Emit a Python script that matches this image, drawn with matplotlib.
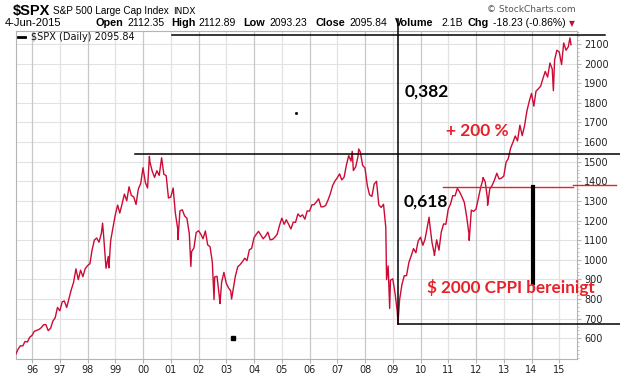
import pandas as pd
import matplotlib.pyplot as plt
import matplotlib.dates as mdates
from matplotlib.ticker import MultipleLocator

# S&P 500 month-end closes, Jun 1995 .. May 2015
monthly_close = [
    544, 562, 561, 584, 581, 605, 615,
    636, 640, 645, 654, 669, 670, 639, 651, 687, 705, 757, 740,
    786, 790, 757, 801, 848, 885, 954, 899, 947, 914, 955, 970,
    980, 1049, 1101, 1111, 1090, 1133, 1120, 957, 1017, 1098, 1163, 1229,
    1279, 1238, 1286, 1335, 1301, 1372, 1328, 1320, 1282, 1362, 1388, 1469,
    1394, 1366, 1498, 1452, 1420, 1454, 1430, 1517, 1436, 1429, 1315, 1320,
    1366, 1240, 1160, 1249, 1255, 1224, 1211, 1134, 1041, 1060, 1139, 1148,
    1130, 1107, 1147, 1076, 1067, 990, 912, 916, 815, 886, 936, 880,
    856, 841, 848, 917, 964, 975, 990, 1008, 996, 1051, 1058, 1112,
    1131, 1145, 1126, 1107, 1121, 1141, 1102, 1104, 1115, 1130, 1174, 1212,
    1181, 1204, 1181, 1157, 1192, 1191, 1234, 1220, 1229, 1207, 1249, 1248,
    1280, 1281, 1295, 1311, 1270, 1270, 1277, 1304, 1336, 1378, 1401, 1418,
    1438, 1407, 1421, 1482, 1531, 1503, 1455, 1474, 1527, 1549, 1481, 1468,
    1378, 1331, 1323, 1386, 1400, 1280, 1267, 1283, 1165, 969, 896, 903,
    826, 735, 798, 873, 919, 919, 987, 1021, 1057, 1036, 1096, 1115,
    1074, 1104, 1169, 1187, 1089, 1031, 1102, 1049, 1141, 1183, 1181, 1258,
    1286, 1327, 1326, 1364, 1345, 1321, 1292, 1219, 1131, 1253, 1247, 1258,
    1312, 1366, 1408, 1398, 1310, 1362, 1379, 1407, 1441, 1412, 1416, 1426,
    1498, 1515, 1569, 1598, 1631, 1606, 1686, 1633, 1682, 1757, 1806, 1848,
    1783, 1859, 1872, 1884, 1924, 1960, 1931, 2003, 1972, 2018, 2068, 2059,
    1995, 2105, 2068, 2086, 2107,
]

# intra-month highs and lows visible on the chart
extreme_dates = ['1995-06-01', '1998-07-17', '1998-10-08', '2000-03-24', '2000-09-01',
                 '2001-04-04', '2001-09-21', '2002-07-23', '2002-10-09', '2003-03-11',
                 '2007-07-16', '2007-10-09', '2008-10-10', '2008-11-20', '2009-03-09',
                 '2010-04-23', '2010-07-02', '2011-04-29', '2011-10-03', '2012-04-02',
                 '2012-06-01', '2014-10-15', '2015-05-21', '2015-06-04']
extreme_values = [520, 1187, 959, 1527, 1520,
                  1103, 966, 797, 777, 800,
                  1553, 1565, 899, 752, 677,
                  1217, 1022, 1364, 1099, 1419,
                  1278, 1862, 2131, 2096]

year_labels = ['96', '97', '98', '99', '00', '01', '02', '03', '04', '05',
               '06', '07', '08', '09', '10', '11', '12', '13', '14', '15']
price_ticks = list(range(600, 2101, 100))

RED = '#cc0a35'
TXT_RED = '#e8202a'


def build_series():
    """Merge month-end closes and extremes into one sorted series."""
    s1 = pd.Series(monthly_close,
                   index=pd.date_range('1995-06-30', periods=len(monthly_close), freq='ME'))
    s2 = pd.Series(extreme_values, index=pd.to_datetime(extreme_dates))
    return pd.concat([s1, s2]).sort_index()


def px(x, y):
    return x / 620, 1 - y / 376


def d(s):
    return mdates.date2num(pd.Timestamp(s))


def main():
    spx = build_series()

    fig = plt.figure(figsize=(6.2, 3.76), dpi=100)
    ax = fig.add_axes([16 / 620, 1 - 358.5 / 376, 561 / 620, 327.5 / 376])

    ax.set_xlim(d('1995-06-03'), d('2015-08-22'))
    ax.set_ylim(497, 2166)

    # grid: horizontal every 100, vertical per year (even years darker)
    for v in price_ticks:
        ax.axhline(v, color='#e2e2e2', lw=0.8, zorder=0)
    years = pd.date_range('1996-01-01', periods=len(year_labels), freq='YS')
    for yr in years:
        col = '#c8c8c8' if yr.year % 2 == 0 else '#e2e2e2'
        ax.axvline(mdates.date2num(yr), color=col, lw=0.9, zorder=0)

    ax.plot(spx.index, spx.values, color=RED, lw=1.0, zorder=3)

    # axes styling
    for sp in ax.spines.values():
        sp.set_color('#b4b4b4')
    ax.yaxis.tick_right()
    ax.set_yticks(price_ticks)
    ax.set_yticklabels([str(v) for v in price_ticks])
    ax.yaxis.set_minor_locator(MultipleLocator(20))
    ax.tick_params(axis='y', which='major', length=3, color='#b4b4b4',
                   labelsize=7, labelcolor='#222222', pad=2)
    ax.tick_params(axis='y', which='minor', length=1.5, color='#b4b4b4')
    ax.set_xticks(mdates.date2num(years))
    ax.set_xticklabels(year_labels)
    ax.tick_params(axis='x', length=3, color='#b4b4b4', labelsize=7,
                   labelcolor='#222222', pad=2)

    # hand-drawn overlay lines
    kw = dict(clip_on=False, zorder=5)
    ax.plot([d('2001-01-20'), d('2016-08-25')], [2146, 2146], color='black', lw=1.1, **kw)
    ax.plot([d('1999-09-16'), d('2017-03-10')], [1539, 1539], color='black', lw=1.1, **kw)
    ax.plot([d('2009-03-12'), d('2009-03-12')], [2228, 671], color='black', lw=1.1, **kw)
    ax.plot([d('2009-03-12'), d('2017-03-10')], [671, 671], color='black', lw=1.1, **kw)
    ax.plot([d('2010-10-23'), d('2015-07-01')], [1372, 1372], color=TXT_RED, lw=1.0, **kw)
    ax.plot([d('2015-07-01'), d('2017-01-20')], [1382, 1382], color=TXT_RED, lw=1.0, **kw)
    ax.plot([d('2014-01-15'), d('2014-01-15')], [1372, 882], color='black', lw=3, **kw)
    ax.plot([d('2003-03-28')], [600], marker='s', ms=2.6, color='black', zorder=5)
    ax.plot([d('2005-07-05')], [1750], marker='s', ms=1.0, color='black', zorder=5)

    fb = dict(family='Lato', weight='bold', fontsize=12.5, va='center', zorder=6)
    ax.text(d('2009-05-30'), 1857, '0,382', color='black', **fb)
    ax.text(d('2009-05-20'), 1295, '0,618', color='black', **fb)
    ax.text(d('2010-12-01'), 1658, '+ 200 %', color=TXT_RED, **fb)
    ax.text(d('2010-03-25'), 857, '$ 2000 CPPI bereinigt', color=TXT_RED,
            **{**fb, 'fontsize': 12.3})

    # legend row inside plot
    fig.add_artist(plt.Line2D([18 / 620, 25 / 620], [1 - 36.5 / 376] * 2, color='black', lw=2))
    fig.text(*px(31, 36.5), '$SPX (Daily) 2095.84', fontsize=7, va='center',
             family='DejaVu Sans', color='#111111')

    # header
    hf = 'Liberation Sans'
    fig.text(*px(13, 11), '$SPX', fontsize=10.5, weight='bold', va='center', family=hf)
    fig.text(*px(53, 11), 'S&P 500 Large Cap Index', fontsize=7.2, va='center', family=hf)
    fig.text(*px(173, 11), 'INDX', fontsize=6.5, va='center', family='DejaVu Sans')
    fig.text(*px(487, 10), '\u00a9 StockCharts.com', fontsize=6.5, va='center',
             family='DejaVu Sans', color='#555555')
    fig.text(*px(5, 23.5), '4-Jun-2015', fontsize=8, va='center', family=hf)
    row = [('Open', 95, True), ('2112.35', 127, False), ('High', 171, True),
           ('2112.89', 198, False), ('Low', 243, True), ('2093.23', 269, False),
           ('Close', 315, True), ('2095.84', 349, False), ('Volume', 395, True),
           ('2.1B', 441, False), ('Chg', 468, True), ('-18.23 (-0.86%)', 493, False)]
    for txt, x, bold in row:
        fig.text(*px(x, 23.5), txt, fontsize=7.8 if bold else 7.5, va='center', family=hf,
                 weight='bold' if bold else 'normal')
    fig.text(*px(569, 23.5), '\u25bc', fontsize=5.5, va='center', color='#c0103a',
             family='DejaVu Sans')

    fig.savefig('out.png', dpi=100)


if __name__ == '__main__':
    main()
